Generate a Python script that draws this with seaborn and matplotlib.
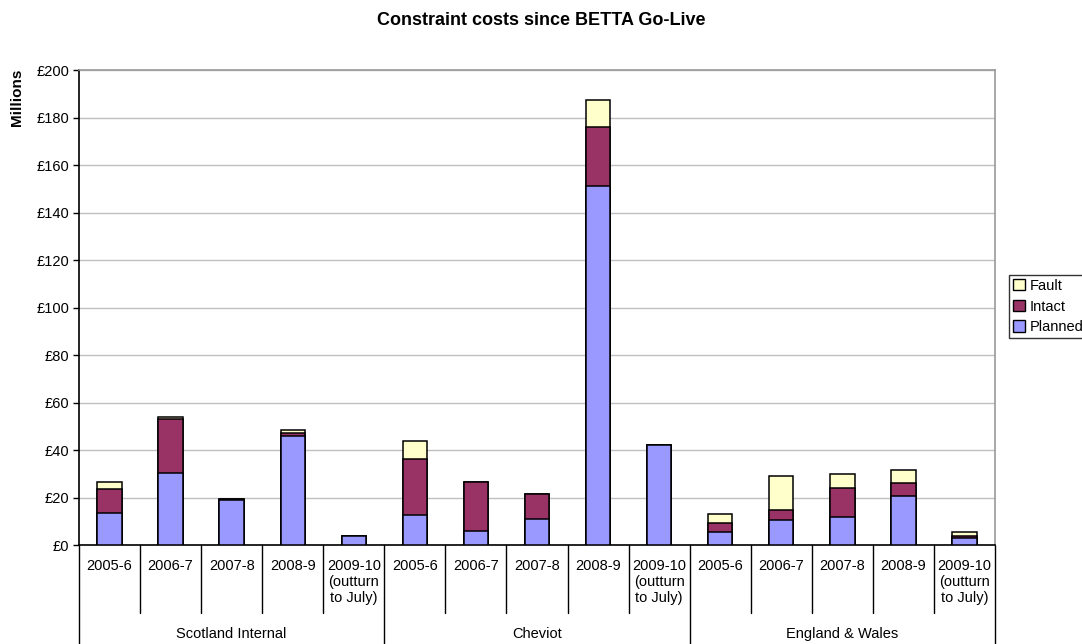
import numpy as np
import pandas as pd
import matplotlib
matplotlib.use("Agg")
import matplotlib.pyplot as plt
from matplotlib.patches import Patch
import matplotlib.transforms as mtransforms
import seaborn as sns

# Constraint cost components (£ millions) per region and year
regions = ["Scotland Internal", "Cheviot", "England & Wales"]
years = ["2005-6", "2006-7", "2007-8", "2008-9", "2009-10\n(outturn\nto July)"]

planned = [13.6, 30.3, 19.0, 45.9, 3.7,
           12.6, 5.9, 10.8, 151.3, 42.1,
           5.5, 10.5, 11.8, 20.6, 2.8]
intact = [10.1, 22.9, 0.3, 1.1, 0.2,
          23.6, 20.5, 10.5, 24.7, 0.0,
          3.9, 4.1, 12.3, 5.4, 1.0]
fault = [2.8, 0.6, 0.0, 1.4, 0.0,
         7.6, 0.0, 0.0, 11.4, 0.0,
         3.8, 14.5, 5.9, 5.6, 1.5]

sns.set_theme(style="white")
plt.rcParams["font.family"] = ["Liberation Sans", "DejaVu Sans"]
for key in ["text.color", "axes.labelcolor", "xtick.color", "ytick.color"]:
    plt.rcParams[key] = "black"

slots = [f"{r}|{y}" for r in regions for y in years]
df = pd.DataFrame({
    "slot": slots,
    "Planned": planned,
    "Intact": intact,
    "Fault": fault,
})
df["top_intact"] = df["Planned"] + df["Intact"]
df["top_fault"] = df["top_intact"] + df["Fault"]

colors = {"Fault": "#FFFFCC", "Intact": "#993366", "Planned": "#9999FF"}

fig = plt.figure(figsize=(10.82, 6.44), dpi=100)
ax = fig.add_axes([0.0730, 0.1537, 0.8466, 0.7376])

# Stacked bars: draw cumulative totals back to front
for col, key in [("top_fault", "Fault"), ("top_intact", "Intact"), ("Planned", "Planned")]:
    sns.barplot(data=df, x="slot", y=col, order=slots, color=colors[key],
                width=0.4, edgecolor="black", linewidth=1.1, saturation=1,
                ax=ax, zorder=3)

ax.set_xlim(-0.5, len(slots) - 0.5)
ax.set_ylim(0, 200)
ax.set_yticks(np.arange(0, 201, 20))
ax.set_yticklabels([f"£{v}" for v in range(0, 201, 20)], fontsize=10.5)
ax.yaxis.grid(True, color="#c0c0c0", linewidth=1)
ax.set_axisbelow(True)
ax.tick_params(axis="y", length=4, width=1, color="black", direction="out", left=True, pad=3)
ax.set_ylabel("Millions", fontsize=11, fontweight="bold")
ax.yaxis.set_label_coords(-0.0595, 0.943)
ax.set_xlabel("")
ax.set_xticks([])

for side in ["left", "bottom"]:
    ax.spines[side].set_color("black")
    ax.spines[side].set_linewidth(1.2)
for side in ["top", "right"]:
    ax.spines[side].set_color("#999999")
    ax.spines[side].set_linewidth(1.2)

# Two-level category axis below the plot
trans = mtransforms.blended_transform_factory(ax.transData, ax.transAxes)
px = 1.0 / 475.0
n_years = len(years)
for b in range(len(slots) + 1):
    xb = b - 0.5
    deep = (b % n_years == 0)
    y_end = -99 * px if deep else -68 * px
    ax.plot([xb, xb], [0, y_end], transform=trans, color="black",
            linewidth=1.0, clip_on=False)

for i, s in enumerate(slots):
    ax.text(i, -14 * px, years[i % n_years], transform=trans, ha="center",
            va="top", fontsize=10.5, linespacing=1.2)

for g, r in enumerate(regions):
    xc = g * n_years + (n_years - 1) / 2
    ax.text(xc, -89 * px, r, transform=trans, ha="center", va="center",
            fontsize=10.5)

fig.suptitle("Constraint costs since BETTA Go-Live", fontsize=13,
             fontweight="bold", y=0.982)

handles = [Patch(facecolor=colors[k], edgecolor="black", linewidth=1)
           for k in ["Fault", "Intact", "Planned"]]
leg = fig.legend(handles, ["Fault", "Intact", "Planned"], loc="center left",
                 bbox_to_anchor=(0.9325, 0.524), fontsize=10.5, frameon=True,
                 fancybox=False, edgecolor="black", handlelength=0.8,
                 handleheight=0.8, handletextpad=0.3, borderpad=0.3,
                 labelspacing=0.45, borderaxespad=0)
leg.get_frame().set_linewidth(1.0)

fig.savefig("out.png", dpi=100)
